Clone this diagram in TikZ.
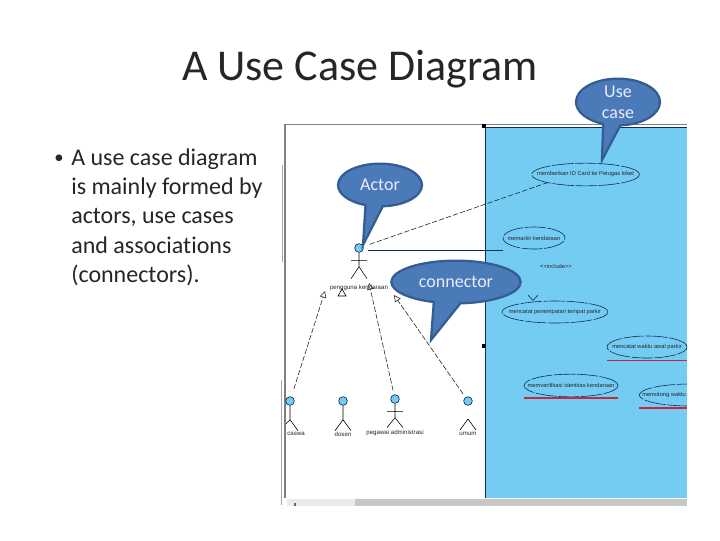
\documentclass[tikz,border=0pt]{standalone}
\usepackage{fontspec}
\setmainfont[Ligatures=NoCommon]{Carlito}
\newfontfamily\tinyfont{Liberation Sans}
\usetikzlibrary{shapes.geometric,shapes.callouts,arrows.meta}
\definecolor{panelblue}{RGB}{117,204,243}
\definecolor{calloutfill}{RGB}{74,122,184}
\definecolor{calloutedge}{RGB}{52,93,145}
\definecolor{navy}{RGB}{15,45,85}
\definecolor{redline}{RGB}{200,40,60}
\tikzset{
  x=0.75pt,y=-0.75pt,
  balloon/.style={ellipse callout,draw=calloutedge,line width=1.7pt,fill=calloutfill,text=white!92!blue,
    font=\fontsize{13.5}{16}\selectfont,align=center,inner sep=0pt,callout pointer arc=24},
  usecase/.style={ellipse,draw=navy,line width=0.45pt,dash pattern=on 16pt off 1.2pt,inner sep=0pt},
  uctext/.style={font=\tinyfont\fontsize{4.3}{5}\selectfont,text=black!85,inner sep=0pt},
  actorhead/.style={circle,draw=navy,line width=0.5pt,fill=panelblue,minimum size=6.5pt,inner sep=0pt},
  limb/.style={black,line width=0.45pt},
  actorname/.style={font=\tinyfont\fontsize{4.6}{5}\selectfont,text=black!85,inner sep=0pt},
  assoc/.style={black!85,line width=0.45pt,dashed,dash pattern=on 4pt off 1.5pt},
  genline/.style={assoc,-{Triangle[open,length=5pt,width=5pt]}},
  underline/.style={redline,line width=0.8pt},
  bodyline/.style={font=\fontsize{18}{21}\selectfont,anchor=west,inner sep=0pt,text=black!85},
}
\begin{document}
\begin{tikzpicture}
\useasboundingbox (0,0) rectangle (720,540);
\fill[white] (0,0) rectangle (720,540);
% title and text
\node[font=\fontsize{33}{36}\selectfont,text=black!85,inner sep=0pt] (title) at (360,69) {A Use Case Diagram};
\node[font=\fontsize{14}{21}\selectfont,text=black!85,inner sep=0pt] (bullet) at (59,159) {•};
\node[bodyline] (t1) at (71,159) {A use case diagram};
\node[bodyline] (t2) at (71,188) {is mainly formed by};
\node[bodyline] (t3) at (71,217) {actors, use cases};
\node[bodyline] (t4) at (71,245.5) {and associations};
\node[bodyline] (t5) at (71,275) {(connectors).};
% window
\fill[panelblue] (486,127) rectangle (687,498);
\draw[navy,line width=0.7pt] (485.5,498) -- (485.5,127) -- (687,127);
\draw[black!50,line width=1.3pt] (285,498) -- (285,124.5) -- (687,124.5);
\draw[black!35,line width=0.4pt] (282,165) -- (282,262);
\draw[black!35,line width=0.4pt] (281.5,380) -- (281.5,505);
\fill[black!8] (287,499) rectangle (355,506);
\fill[black!22] (355,499) rectangle (687,506);
\fill[black] (482,124) rectangle (486,128);
\fill[black] (482,344) rectangle (486,348);
\fill[black!60] (294,503) rectangle (296,506);
% use cases
\begin{scope}
\clip (486,127) rectangle (687,498);
\node[usecase,minimum width=81pt,minimum height=17pt,label={[uctext]center:memberikan ID Card ke Petugas loket}] (uc1) at (585.5,174.5) {};
\node[usecase,minimum width=46.5pt,minimum height=16.5pt,label={[uctext]center:memarkir kendaraan}] (uc2) at (534,238) {};
\node[usecase,minimum width=79.5pt,minimum height=16.5pt,label={[uctext]center:mencatat penempatan tempat parkir}] (uc3) at (555,312) {};
\node[usecase,minimum width=60pt,minimum height=16.5pt,label={[uctext]center:mencatat waktu awal parkir}] (uc4) at (647,347) {};
\node[usecase,minimum width=70.5pt,minimum height=17pt,label={[uctext]center:memverifikasi identitas kendaraan}] (uc5) at (571,385.5) {};
\node[usecase,minimum width=76pt,minimum height=16.5pt] (uc6) at (690,395) {};
\node[uctext,anchor=west] (uc6text) at (642,395) {memotong waktu parkir};
\end{scope}
\node[uctext] (incl) at (556,266) {<<include>>};
\draw[navy,line width=0.45pt] (528,295) -- (533,300.5) -- (538,295);
\coordinate (r4a) at (607,360.5); \coordinate (r4b) at (687,360.5);
\coordinate (r5a) at (524,398); \coordinate (r5b) at (618,398);
\coordinate (r6a) at (639,408); \coordinate (r6b) at (687,408);
\draw[underline] (r4a) -- (r4b);
\draw[underline] (r5a) -- (r5b);
\draw[underline] (r6a) -- (r6b);
% actors
\node[actorhead] (pengguna) at (359,248) {};
\draw[limb] (pengguna.south) -- ++(0,14) ++(-8,-6) -- ++(16,0) ++(-8,6) -- ++(-8,12) ++(8,-12) -- ++(8,12);
\node[actorname] (lpengguna) at (359,288) {pengguna kendaraan};
\node[actorhead] (casual) at (290,401) {};
\draw[limb] (casual.south) -- ++(0,14) -- ++(-4,4) ++(4,-4) -- ++(8,11);
\node[actorname] (lcasual) at (296,434) {caswa};
\node[actorhead] (dosen) at (343,401) {};
\draw[limb] (dosen.south) -- ++(0,14) -- ++(-8,11) ++(8,-11) -- ++(8,11);
\node[actorname] (ldosen) at (343,434) {dosen};
\node[actorhead] (pegawai) at (395,399) {};
\draw[limb] (pegawai.south) -- ++(0,14) ++(-8,-6) -- ++(16,0) ++(-8,6) -- ++(-8,10) ++(8,-10) -- ++(8,10);
\node[actorname] (lpegawai) at (395,433) {pegawai administrasi};
\node[actorhead] (umum) at (468,401) {};
\draw[limb] (468,419) -- ++(-8,11) ++(8,-11) -- ++(8,11);
\node[actorname] (lumum) at (468,434) {umum};
% connectors
\coordinate (solidA) at (368,250);
\coordinate (solidB) at (503,250);
\coordinate (tri1) at (325,291);
\coordinate (tri2) at (369,283);
\coordinate (tri3) at (394,295);
\coordinate (tri4) at (342,289);
\draw[assoc,shorten <=5pt] (pengguna) -- (uc1.south west);
\draw[navy,line width=0.6pt] (solidA) -- (solidB);
\draw[genline,shorten <=6pt] (casual) -- (tri1);
\draw[genline,shorten <=3pt] (pegawai) -- (tri2);
\draw[genline,shorten <=3pt] (umum) -- (tri3);
\draw[black,line width=0.45pt] (tri4) -- ++(-4,7) -- ++(8,0) -- cycle;
% callouts
\node[balloon,minimum width=63pt,minimum height=32pt,callout absolute pointer={(602,160)}] (cUse) at (618,102) {Use\\case};
\node[balloon,minimum width=63pt,minimum height=32pt,callout absolute pointer={(363,245)}] (cActor) at (380,185) {Actor};
\node[balloon,minimum width=97pt,minimum height=32pt,callout absolute pointer={(431,340)}] (cConn) at (456,282) {connector};
\end{tikzpicture}
\end{document}
